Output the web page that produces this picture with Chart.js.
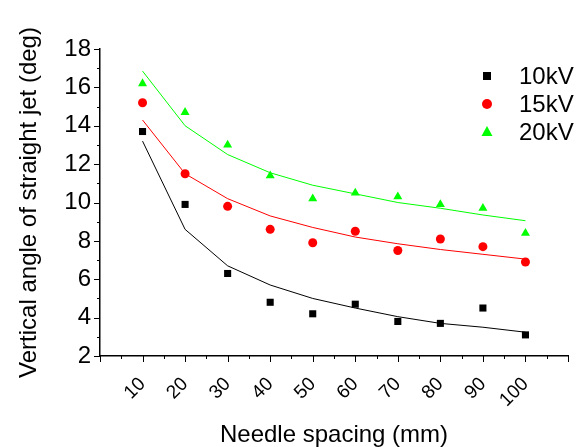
<!DOCTYPE html>
<html>
<head>
<meta charset="utf-8">
<script src="https://cdn.jsdelivr.net/npm/chart.js@4"></script>
<style>
  html, body { margin: 0; padding: 0; background: #fff; }
  #wrap { width: 581px; height: 447px; }
</style>
</head>
<body>
<div id="wrap"><canvas id="grafico" width="581" height="447"></canvas></div>
<script>
// valores
const espacamento = [10, 20, 30, 40, 50, 60, 70, 80, 90, 100];
const medido10kV = [13.7, 9.9, 6.3, 4.8, 4.2, 4.7, 3.8, 3.7, 4.5, 3.1];
const medido15kV = [15.2, 11.5, 9.8, 8.6, 7.9, 8.5, 7.5, 8.1, 7.7, 6.9];
const medido20kV = [16.2, 14.7, 13.0, 11.4, 10.2, 10.5, 10.3, 9.9, 9.7, 8.4];
const ajuste10kV = [13.2, 8.6, 6.7, 5.7, 5.0, 4.5, 4.05, 3.7, 3.5, 3.24];
const ajuste15kV = [14.3, 11.5, 10.2, 9.3, 8.7, 8.2, 7.85, 7.55, 7.3, 7.05];
const ajuste20kV = [16.85, 14.0, 12.5, 11.55, 10.9, 10.45, 10.0, 9.7, 9.35, 9.05];
const rotulosSerie = ['10kV', '15kV', '20kV'];
const coresSerie = ['#000000', '#ff0000', '#00ff00'];
const estilosSerie = ['rect', 'circle', 'triangle'];
const raiosPonto = [5, 4.5, 5.2];

const fonte = "'Liberation Sans', Arial, sans-serif";
Chart.defaults.font.family = fonte;
Chart.defaults.color = '#000';

function pares(valores) {
    return espacamento.map((x, i) => ({ x: x, y: valores[i] }));
}

const medidos = [medido10kV, medido15kV, medido20kV];
const ajustes = [ajuste10kV, ajuste15kV, ajuste20kV];

// pontos medidos
const dsPontos = medidos.map((vals, i) => ({
    label: rotulosSerie[i],
    data: pares(vals),
    pointStyle: estilosSerie[i],
    pointRadius: raiosPonto[i],
    pointBackgroundColor: coresSerie[i],
    pointBorderWidth: 0,
    showLine: false
}));

// curvas de ajuste
const dsLinhas = ajustes.map((vals, i) => ({
    label: rotulosSerie[i] + ' ajuste',
    data: pares(vals),
    showLine: true,
    borderColor: coresSerie[i],
    borderWidth: 1,
    pointRadius: 0,
    fill: false
}));

// marcas maiores e menores dos eixos
const marcasEixos = {
    id: 'marcasEixos',
    afterDraw(chart) {
        const ctx = chart.ctx;
        const sx = chart.scales.x, sy = chart.scales.y;
        const area = chart.chartArea;
        ctx.save();
        ctx.strokeStyle = '#000';
        ctx.lineWidth = 1;
        for (let v = 2; v <= 18; v++) {
            const py = Math.round(sy.getPixelForValue(v)) + 0.5;
            const len = v % 2 === 0 ? 6 : 3;
            ctx.beginPath();
            ctx.moveTo(area.left - len, py);
            ctx.lineTo(area.left, py);
            ctx.stroke();
        }
        for (let v = 0; v <= 110; v += 5) {
            const px = Math.round(sx.getPixelForValue(v)) + 0.5;
            const len = v % 10 === 0 ? 6 : 3;
            ctx.beginPath();
            ctx.moveTo(px, area.bottom);
            ctx.lineTo(px, area.bottom + len);
            ctx.stroke();
        }
        ctx.restore();
    }
};

// legenda no canto superior direito
const legendaSeries = {
    id: 'legendaSeries',
    afterDraw(chart) {
        const ctx = chart.ctx;
        const area = chart.chartArea;
        const mx = area.right - 81;
        const tx = area.right - 49;
        ctx.save();
        ctx.font = '24px ' + fonte;
        ctx.textBaseline = 'middle';
        ctx.textAlign = 'left';
        rotulosSerie.forEach((txt, i) => {
            const my = area.top + 27 + i * 28;
            ctx.fillStyle = coresSerie[i];
            ctx.beginPath();
            if (estilosSerie[i] === 'rect') {
                ctx.rect(mx - 4, my - 4, 8, 8);
            } else if (estilosSerie[i] === 'circle') {
                ctx.arc(mx, my, 5, 0, Math.PI * 2);
            } else {
                ctx.moveTo(mx, my - 6);
                ctx.lineTo(mx + 5.5, my + 4);
                ctx.lineTo(mx - 5.5, my + 4);
                ctx.closePath();
            }
            ctx.fill();
            ctx.fillStyle = '#000';
            ctx.fillText(txt, tx, my + 1);
        });
        ctx.restore();
    }
};

const ctx = document.getElementById('grafico').getContext('2d');
new Chart(ctx, {
    type: 'scatter',
    data: { datasets: [...dsPontos, ...dsLinhas] },
    options: {
        responsive: false,
        animation: false,
        layout: { padding: { top: 49, right: 13, left: 0, bottom: 0 } },
        plugins: {
            legend: { display: false },
            tooltip: { enabled: false }
        },
        scales: {
            x: {
                type: 'linear',
                min: 0,
                max: 110,
                afterFit(s) {
                    s.height = 91;
                    s.paddingLeft = 0;
                    s.paddingRight = 0;
                },
                grid: { display: false, drawTicks: false },
                border: { display: true, color: '#000', width: 1.5 },
                ticks: {
                    stepSize: 10,
                    autoSkip: false,
                    minRotation: 45,
                    maxRotation: 45,
                    padding: 17,
                    color: '#000',
                    font: { size: 19 },
                    callback: v => (v >= 10 && v <= 100) ? v : ''
                },
                title: {
                    display: true,
                    text: 'Needle spacing (mm)',
                    color: '#000',
                    font: { size: 24, lineHeight: 1 },
                    padding: 0
                }
            },
            y: {
                type: 'linear',
                min: 2,
                max: 18,
                afterFit(s) {
                    s.width = 100;
                    s.paddingTop = 0;
                    s.paddingBottom = 0;
                },
                grid: { display: false, drawTicks: false },
                border: { display: true, color: '#000', width: 1.5 },
                ticks: {
                    stepSize: 2,
                    padding: 9,
                    color: '#000',
                    font: { size: 24 }
                },
                title: {
                    display: true,
                    text: 'Vertical angle of straight jet (deg)',
                    color: '#000',
                    font: { size: 24, lineHeight: 1 },
                    padding: { top: 17, bottom: 0 }
                }
            }
        }
    },
    plugins: [marcasEixos, legendaSeries]
});
</script>
</body>
</html>
